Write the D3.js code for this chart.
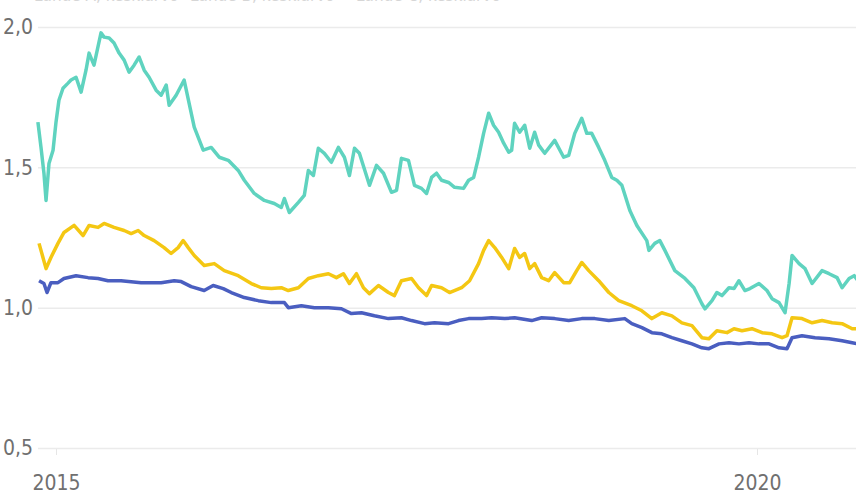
<!DOCTYPE html>
<html>
<head>
<meta charset="utf-8">
<script src="https://cdn.jsdelivr.net/npm/d3@7"></script>
<style>
  body { margin: 0; background: #fff; }
  svg { display: block; }
  text { font-family: "Liberation Sans Narrow", "DejaVu Sans Condensed", "Roboto", sans-serif; font-stretch: condensed; }
</style>
</head>
<body>
<svg width="856" height="494"></svg>
<script>
// values: [decimal year, value]
var seriesNames = ["Lähde A, keskiarvo", "Lähde B, keskiarvo", "Lähde C, keskiarvo"];
var seriesColors = ["#5fd3bf", "#f4c713", "#4a5ec0"];

var teal = [
  [2014.871,1.661],[2014.893,1.571],[2014.914,1.479],[2014.929,1.382],[2014.950,1.514],[2014.979,1.561],
  [2015.000,1.661],[2015.021,1.739],[2015.050,1.782],[2015.086,1.800],[2015.107,1.811],[2015.143,1.821],
  [2015.179,1.768],[2015.214,1.846],[2015.236,1.907],[2015.271,1.864],[2015.321,1.979],[2015.343,1.964],
  [2015.379,1.961],[2015.414,1.943],[2015.450,1.907],[2015.486,1.882],[2015.521,1.839],[2015.557,1.864],
  [2015.593,1.893],[2015.629,1.846],[2015.664,1.821],[2015.714,1.775],[2015.750,1.757],[2015.786,1.793],
  [2015.807,1.721],[2015.857,1.757],[2015.914,1.811],[2015.986,1.643],[2016.050,1.561],[2016.107,1.571],
  [2016.164,1.536],[2016.229,1.525],[2016.300,1.489],[2016.343,1.454],[2016.414,1.407],[2016.486,1.382],
  [2016.557,1.371],[2016.607,1.357],[2016.629,1.389],[2016.664,1.339],[2016.729,1.375],[2016.771,1.400],
  [2016.800,1.489],[2016.836,1.471],[2016.871,1.568],[2016.914,1.550],[2016.964,1.518],[2017.014,1.571],
  [2017.057,1.536],[2017.093,1.471],[2017.129,1.568],[2017.164,1.550],[2017.236,1.436],[2017.286,1.507],
  [2017.336,1.479],[2017.393,1.411],[2017.429,1.418],[2017.464,1.532],[2017.514,1.525],[2017.557,1.436],
  [2017.607,1.425],[2017.643,1.407],[2017.679,1.464],[2017.714,1.479],[2017.750,1.454],[2017.800,1.446],
  [2017.843,1.429],[2017.907,1.425],[2017.943,1.454],[2017.979,1.464],[2018.014,1.536],[2018.050,1.621],
  [2018.086,1.693],[2018.121,1.650],[2018.157,1.625],[2018.193,1.586],[2018.229,1.554],[2018.250,1.561],
  [2018.271,1.657],[2018.307,1.625],[2018.343,1.650],[2018.379,1.568],[2018.414,1.625],[2018.443,1.579],
  [2018.486,1.550],[2018.557,1.596],[2018.621,1.536],[2018.657,1.543],[2018.700,1.621],[2018.750,1.675],
  [2018.786,1.621],[2018.821,1.621],[2018.871,1.571],[2018.914,1.525],[2018.964,1.464],[2019.000,1.454],
  [2019.036,1.436],[2019.093,1.346],[2019.143,1.293],[2019.214,1.239],[2019.229,1.204],[2019.271,1.229],
  [2019.307,1.239],[2019.343,1.204],[2019.414,1.132],[2019.486,1.104],[2019.550,1.071],[2019.607,1.014],
  [2019.629,0.996],[2019.679,1.025],[2019.714,1.054],[2019.750,1.043],[2019.800,1.071],[2019.836,1.068],
  [2019.871,1.096],[2019.914,1.061],[2019.950,1.068],[2020.014,1.086],[2020.071,1.061],[2020.107,1.032],
  [2020.157,1.018],[2020.200,0.982],[2020.229,1.086],[2020.250,1.186],[2020.300,1.157],[2020.343,1.139],
  [2020.393,1.086],[2020.464,1.132],[2020.514,1.121],[2020.571,1.107],[2020.607,1.071],[2020.657,1.104],
  [2020.693,1.114],[2020.721,1.096]
];

var yellow = [
  [2014.879,1.229],[2014.907,1.179],[2014.929,1.139],[2014.964,1.179],[2015.014,1.229],[2015.057,1.268],
  [2015.129,1.293],[2015.193,1.257],[2015.236,1.293],[2015.300,1.286],[2015.343,1.300],[2015.414,1.286],
  [2015.486,1.275],[2015.536,1.264],[2015.586,1.275],[2015.629,1.257],[2015.700,1.239],[2015.771,1.214],
  [2015.821,1.193],[2015.871,1.214],[2015.907,1.239],[2015.943,1.214],[2015.986,1.186],[2016.057,1.150],
  [2016.129,1.157],[2016.200,1.132],[2016.300,1.114],[2016.393,1.086],[2016.464,1.071],[2016.536,1.068],
  [2016.607,1.071],[2016.657,1.061],[2016.729,1.071],[2016.800,1.104],[2016.871,1.114],[2016.943,1.121],
  [2017.000,1.107],[2017.050,1.121],[2017.093,1.086],[2017.143,1.121],[2017.193,1.071],[2017.236,1.050],
  [2017.300,1.079],[2017.371,1.054],[2017.414,1.043],[2017.464,1.096],[2017.536,1.104],[2017.586,1.071],
  [2017.643,1.043],[2017.679,1.079],[2017.750,1.071],[2017.807,1.054],[2017.893,1.071],[2017.950,1.096],
  [2018.014,1.157],[2018.050,1.204],[2018.086,1.239],[2018.129,1.214],[2018.179,1.179],[2018.229,1.139],
  [2018.271,1.211],[2018.307,1.179],[2018.343,1.193],[2018.379,1.139],[2018.414,1.157],[2018.464,1.107],
  [2018.514,1.096],[2018.557,1.125],[2018.621,1.089],[2018.664,1.089],[2018.714,1.132],[2018.750,1.161],
  [2018.800,1.132],[2018.871,1.096],[2018.943,1.054],[2019.014,1.025],[2019.107,1.007],[2019.179,0.989],
  [2019.250,0.961],[2019.321,0.982],[2019.393,0.971],[2019.464,0.946],[2019.536,0.936],[2019.607,0.893],
  [2019.657,0.889],[2019.714,0.918],[2019.786,0.911],[2019.836,0.925],[2019.893,0.918],[2019.964,0.925],
  [2020.036,0.911],[2020.107,0.907],[2020.179,0.893],[2020.214,0.900],[2020.250,0.964],[2020.321,0.961],
  [2020.393,0.946],[2020.464,0.954],[2020.536,0.946],[2020.607,0.943],[2020.679,0.925],[2020.721,0.925]
];

var blue = [
  [2014.879,1.096],[2014.914,1.086],[2014.936,1.054],[2014.964,1.089],[2015.014,1.089],[2015.057,1.104],
  [2015.143,1.114],[2015.229,1.107],[2015.300,1.104],[2015.371,1.096],[2015.464,1.096],[2015.607,1.089],
  [2015.750,1.089],[2015.843,1.096],[2015.893,1.093],[2015.964,1.075],[2016.057,1.061],[2016.121,1.079],
  [2016.193,1.068],[2016.250,1.054],[2016.343,1.036],[2016.443,1.025],[2016.536,1.018],[2016.629,1.018],
  [2016.657,1.000],[2016.750,1.007],[2016.843,1.000],[2016.943,1.000],[2017.036,0.996],[2017.107,0.979],
  [2017.179,0.982],[2017.271,0.971],[2017.371,0.961],[2017.464,0.964],[2017.536,0.954],[2017.629,0.943],
  [2017.700,0.946],[2017.800,0.943],[2017.871,0.954],[2017.943,0.961],[2018.036,0.961],[2018.107,0.964],
  [2018.200,0.961],[2018.271,0.964],[2018.393,0.954],[2018.464,0.964],[2018.557,0.961],[2018.657,0.954],
  [2018.750,0.961],[2018.843,0.961],[2018.943,0.954],[2019.057,0.961],[2019.107,0.943],[2019.179,0.929],
  [2019.250,0.911],[2019.321,0.907],[2019.393,0.893],[2019.464,0.882],[2019.536,0.871],[2019.607,0.857],
  [2019.657,0.854],[2019.729,0.871],[2019.800,0.875],[2019.871,0.871],[2019.943,0.875],[2020.014,0.871],
  [2020.086,0.871],[2020.157,0.857],[2020.214,0.854],[2020.250,0.893],[2020.321,0.900],[2020.414,0.893],
  [2020.514,0.889],[2020.607,0.882],[2020.679,0.875],[2020.721,0.871]
];

var yTicks = [0.5, 1.0, 1.5, 2.0];
var xTicks = [2015, 2020];

var svg = d3.select("svg"),
    width = +svg.attr("width"),
    height = +svg.attr("height");

var xScale = d3.scaleLinear().domain([2015, 2020]).range([56, 757]),
    yScale = d3.scaleLinear().domain([0.5, 2.0]).range([448, 27]);

var fmt = d3.format(".1f");

// gridlines + y labels
var yAxis = svg.append("g")
  .attr("transform", "translate(38,0)")
  .call(d3.axisRight(yScale).tickValues(yTicks).tickSize(width - 38)
    .tickFormat(function(d){ return fmt(d).replace(".", ","); }));
yAxis.select(".domain").remove();
yAxis.selectAll("line").attr("stroke", "#ebebeb").attr("stroke-width", 1.5);
yAxis.selectAll("text")
  .attr("x", -5)
  .attr("text-anchor", "end")
  .attr("font-size", 21)
  .attr("fill", "#707070");

// x axis
var xAxis = svg.append("g")
  .attr("transform", "translate(0," + 449 + ")")
  .call(d3.axisBottom(xScale).tickValues(xTicks).tickSize(6).tickPadding(20)
    .tickFormat(d3.format("d")));
xAxis.select(".domain").remove();
xAxis.selectAll("line").attr("stroke", "#e6e6e6");
xAxis.selectAll("text").attr("font-size", 21).attr("fill", "#707070");

// lines
var line = d3.line()
  .x(function(d){ return xScale(d[0]); })
  .y(function(d){ return yScale(d[1]); });

[teal, yellow, blue].forEach(function(s, i){
  svg.append("path")
    .datum(s)
    .attr("fill", "none")
    .attr("stroke", seriesColors[i])
    .attr("stroke-width", 3.5)
    .attr("stroke-linejoin", "round")
    .attr("d", line);
});

// legend, almost entirely above the top edge (as in the reference)
var legendX = [12, 168, 334];
var lg = svg.append("g");
seriesNames.forEach(function(n, i){
  lg.append("line")
    .attr("x1", legendX[i]).attr("x2", legendX[i] + 12)
    .attr("y1", -5).attr("y2", -5)
    .attr("stroke", seriesColors[i]).attr("stroke-width", 3);
  lg.append("text")
    .attr("x", legendX[i] + 22)
    .attr("y", 1)
    .attr("font-size", 17)
    .attr("fill", "#d6d6d6")
    .text(n);
});
</script>
</body>
</html>
